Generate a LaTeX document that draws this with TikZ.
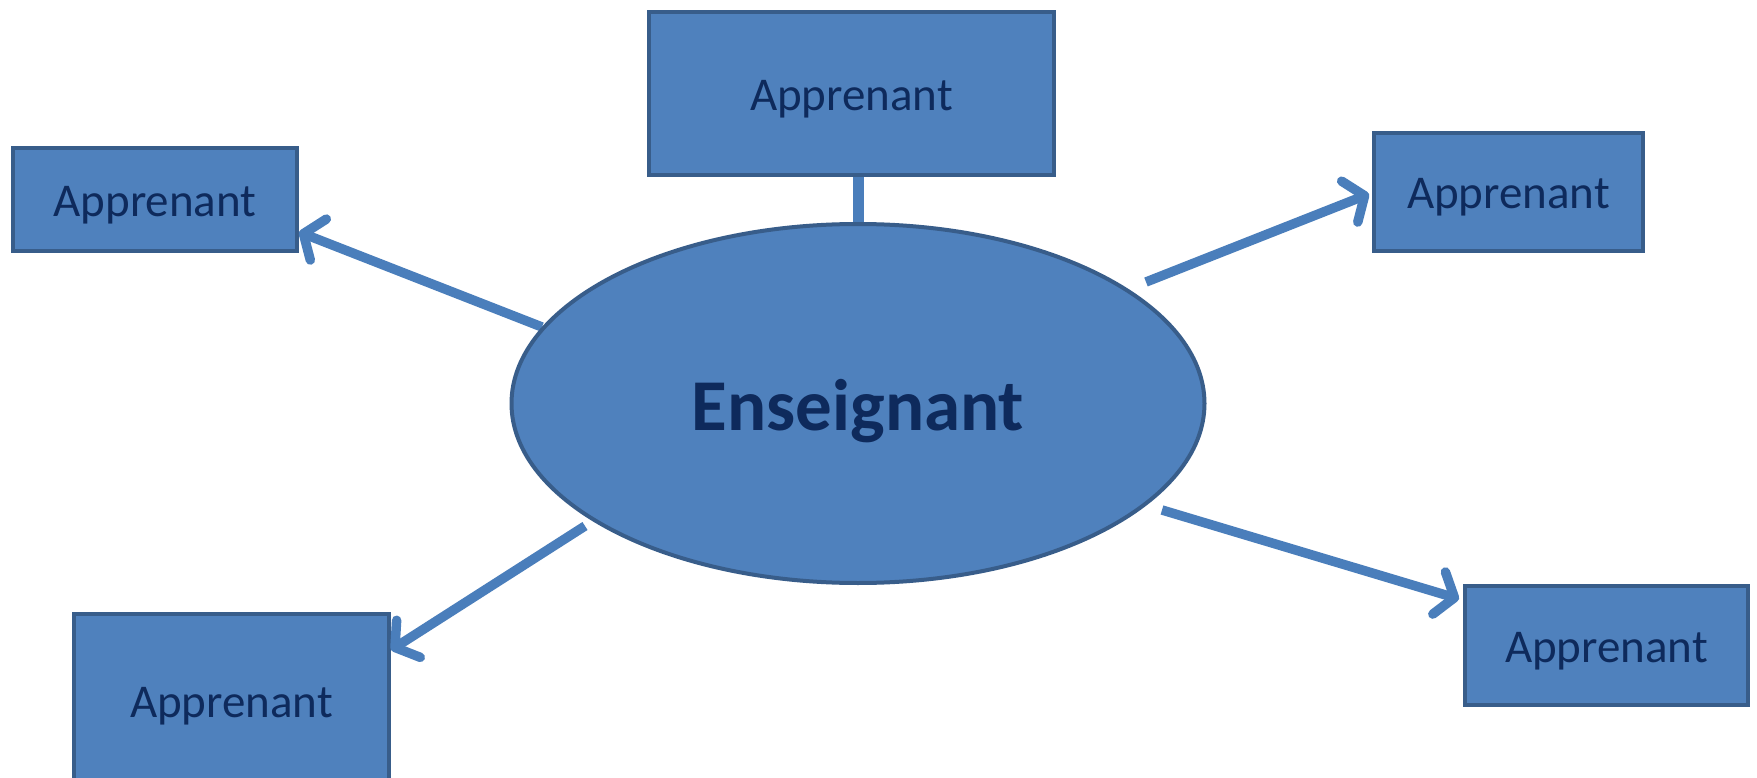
\documentclass[tikz,border=0pt]{standalone}
\usepackage{fontspec}
\setmainfont{Carlito}
\usetikzlibrary{arrows.meta,shapes.geometric,calc}
\definecolor{boxfill}{HTML}{4F81BD}
\definecolor{boxline}{HTML}{385D8A}
\definecolor{connc}{HTML}{4A7EBB}
\definecolor{txtc}{HTML}{0E2A5C}
\begin{document}
\begin{tikzpicture}[x=1pt,y=-1pt,
  learner/.style={rectangle,draw=boxline,fill=boxfill,line width=4pt,inner sep=0pt,
    text=txtc,font=\fontsize{47}{56}\selectfont,text height=42pt,text depth=8pt},
  teacher/.style={ellipse,draw=boxline,fill=boxfill,line width=4pt,inner sep=0pt,
    text=txtc,font=\fontsize{73}{88}\selectfont\bfseries,text height=62pt,text depth=8pt,
    minimum width=693pt,minimum height=359pt},
  conn/.style={draw=connc,line width=9.5pt,-{Straight Barb[length=16pt,width=44pt,round]}},
  link/.style={draw=connc,line width=11pt}]
\clip (0,0) rectangle (1757,778);
\useasboundingbox (0,0) rectangle (1757,778);
\fill[white] (0,0) rectangle (1757,778);

\node[learner,minimum width=405pt,minimum height=163pt] (top) at (851.5,93.5) {Apprenant};
\node[learner,minimum width=284pt,minimum height=103pt] (lt) at (155,199.5) {Apprenant};
\node[learner,minimum width=269pt,minimum height=118pt] (rt) at (1508.5,192) {Apprenant};
\node[learner,minimum width=315pt,minimum height=172pt] (lb) at (231.5,700) {Apprenant};
\node[learner,minimum width=283pt,minimum height=119pt] (rb) at (1606.5,645.5) {Apprenant};

\coordinate (s1) at (542,327);
\coordinate (t1) at (299,232);
\coordinate (s2) at (1146,282);
\coordinate (t2) at (1369,194);
\coordinate (s3) at (585,526);
\coordinate (t3) at (391,650);
\coordinate (s4) at (1162,510);
\coordinate (t4) at (1459,599);

\draw[conn] (s1) -- (t1);
\draw[conn] (s3) -- (t3);

\node[teacher] (ell) at (858,403.5) {Enseignant};

\draw[link] (ell.north) -- (ell.north |- top.south);
\draw[conn] (s2) -- (t2);
\draw[conn] (s4) -- (t4);
\end{tikzpicture}
\end{document}
